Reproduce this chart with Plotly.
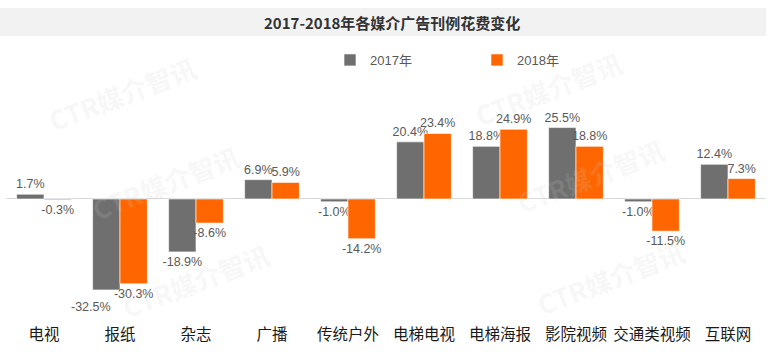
import plotly.graph_objects as go

categories = ["电视", "报纸", "杂志", "广播", "传统户外", "电梯电视", "电梯海报", "影院视频", "交通类视频", "互联网"]
values_2017 = [1.7, -32.5, -18.9, 6.9, -1.0, 20.4, 18.8, 25.5, -1.0, 12.4]
values_2018 = [-0.3, -30.3, -8.6, 5.9, -14.2, 23.4, 24.9, 18.8, -11.5, 7.3]
series_names = ["2017年", "2018年"]
title_text = "2017-2018年各媒介广告刊例花费变化"
watermark_text = "CTR媒介智讯"

W, H = 771, 356
L, R, T, B = 6, 5, 80, 40
PW, PH = W - L - R, H - T - B

def px_x(px):
    return (px - L) / PW

def px_y(py):
    return (H - B - py) / PH

FONT = "Liberation Sans, Arial, Noto Sans CJK SC, sans-serif"
CJK = "Noto Sans CJK SC, Liberation Sans, sans-serif"
LABEL_FONT = dict(family=FONT, size=12.5, color="#595959")

fig = go.Figure()
colors = ["#6f6f6f", "#ff6600"]
for i, (name, vals) in enumerate([(series_names[0], values_2017), (series_names[1], values_2018)]):
    texts = [f"{v:.1f}%" for v in vals]
    if i == 0:
        texts[1] = ""  # placed separately below to avoid overlapping its neighbour
    fig.add_trace(go.Bar(
        name=name, x=categories, y=vals,
        marker=dict(color=colors[i], line=dict(color="white", width=0.6)),
        text=texts, textposition="outside",
        textfont=LABEL_FONT,
        constraintext="none", cliponaxis=False,
    ))

# shifted label for the 报纸 2017 bar (as in the reference)
fig.add_annotation(x=categories[1], y=values_2017[1], text=f"{values_2017[1]:.1f}%",
                   showarrow=False, xshift=-29, xanchor="center", yanchor="top", yshift=-8,
                   font=LABEL_FONT)

# title bar
fig.add_shape(type="rect", xref="paper", yref="paper",
              x0=px_x(0), x1=px_x(766), y0=px_y(36), y1=px_y(8),
              fillcolor="#f2f2f2", line=dict(width=0), layer="below")
fig.add_annotation(text="<b>" + title_text + "</b>", xref="paper", yref="paper",
                   x=px_x(392), y=px_y(22), xanchor="center", yanchor="middle", showarrow=False,
                   font=dict(family=CJK, size=15, color="#333333"))

# watermarks
for cx, cy in [(122, 94), (165, 182), (195, 280), (548, 88), (590, 175), (610, 277)]:
    fig.add_annotation(text="<b>" + watermark_text + "</b>", xref="paper", yref="paper",
                       x=px_x(cx), y=px_y(cy), xanchor="center", yanchor="middle",
                       showarrow=False, textangle=-21,
                       font=dict(family=CJK, size=26, color="rgba(205,205,205,0.16)"))

fig.update_layout(
    width=W, height=H,
    margin=dict(l=L, r=R, t=T, b=B, autoexpand=False),
    paper_bgcolor="white", plot_bgcolor="white",
    barmode="group", bargap=0.28, bargroupgap=0,
    showlegend=True,
    legend=dict(orientation="h", x=px_x(330), xanchor="left", y=px_y(60), yanchor="middle",
                entrywidth=102, entrywidthmode="pixels", itemwidth=30,
                font=dict(family=FONT, size=13, color="#595959"), bgcolor="rgba(0,0,0,0)"),
    xaxis=dict(showgrid=False, showline=False, ticks="", ticklabelstandoff=7,
               tickfont=dict(family=CJK, size=15.5, color="#1a1a1a")),
    yaxis=dict(range=[-41.8, 42.5], showgrid=False, showticklabels=False, ticks="",
               zeroline=True, zerolinecolor="#d9d9d9", zerolinewidth=1, showline=False),
)

fig.write_html("out.html", config={"displayModeBar": False},
               post_script="document.body.style.margin='0';")
